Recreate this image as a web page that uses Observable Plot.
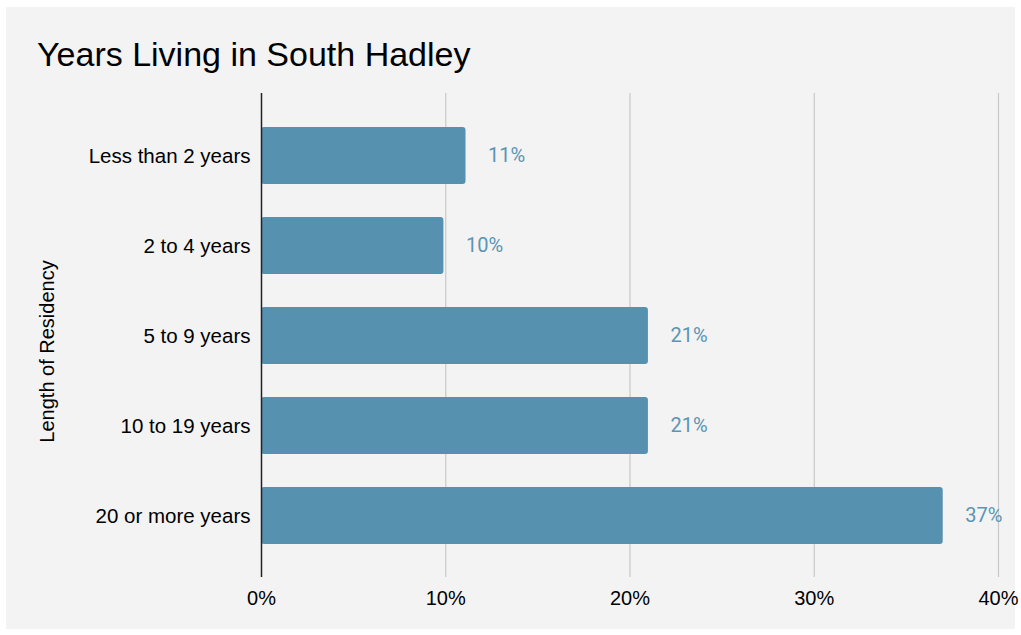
<!DOCTYPE html>
<html>
<head>
<meta charset="utf-8">
<script src="https://cdn.jsdelivr.net/npm/d3@7"></script>
<script src="https://cdn.jsdelivr.net/npm/@observablehq/plot@0.6"></script>
<style>
  html, body { margin: 0; padding: 0; background: #ffffff; }
  #wrap { position: relative; width: 1021px; height: 635px; overflow: hidden; }
  #panel { position: absolute; left: 6px; top: 7px; width: 1009px; height: 622px; background: #f3f3f3; }
  #title { position: absolute; left: 37px; top: 37px; font-family: "Liberation Sans", Arial, Helvetica, sans-serif; font-size: 34px; line-height: 34px; color: #000; white-space: nowrap; }
  #chart { position: absolute; left: 0; top: 0; }
</style>
</head>
<body>
<div id="wrap">
  <div id="panel"></div>
  <div id="title">Years Living in South Hadley</div>
  <div id="chart"></div>
</div>
<script>
const categories = ["Less than 2 years", "2 to 4 years", "5 to 9 years", "10 to 19 years", "20 or more years"];
const percents = [11.1, 9.9, 21, 21, 37];
const xTicks = [0, 10, 20, 30, 40];
const yAxisTitle = "Length of Residency";

const data = categories.map((c, i) => ({ category: c, value: percents[i] }));
const fmt = d3.format(".0f");

const plot = Plot.plot({
  width: 1021,
  height: 635,
  marginLeft: 261,
  marginRight: 23,
  marginTop: 93,
  marginBottom: 58,
  style: { background: "transparent", fontFamily: "\"Liberation Sans\", Arial, Helvetica, sans-serif", fontSize: "20px", color: "#000" },
  x: { domain: [0, 40], ticks: xTicks, tickFormat: d => d + "%", label: null },
  y: { domain: categories, paddingInner: 0.372, paddingOuter: 0.353, label: null },
  marks: [
    Plot.ruleX(xTicks.filter(d => d > 0), { stroke: "#c8c8c8", strokeWidth: 1.2 }),
    Plot.barX(data, { y: "category", x: "value", fill: "#5791b0", rx: 3 }),
    Plot.ruleX([0], { stroke: "#222", strokeWidth: 1.5 }),
    Plot.text(data, {
      y: "category", x: "value", text: d => fmt(d.value) + "%",
      dx: 22, textAnchor: "start", fill: "#5b95b4",
      fontFamily: "Roboto, sans-serif", fontSize: 20
    }),
    Plot.axisX({ ticks: xTicks, tickFormat: d => d + "%", tickSize: 0, tickPadding: 13, fontSize: 20 }),
    Plot.axisY({ tickSize: 0, tickPadding: 11, fontSize: 20.5 }),
    Plot.text([yAxisTitle], {
      frameAnchor: "left", text: d => d, rotate: -90, dx: -214, dy: 16,
      textAnchor: "middle", fontSize: 20, fill: "#000"
    })
  ]
});
document.getElementById("chart").appendChild(plot);
</script>
</body>
</html>
